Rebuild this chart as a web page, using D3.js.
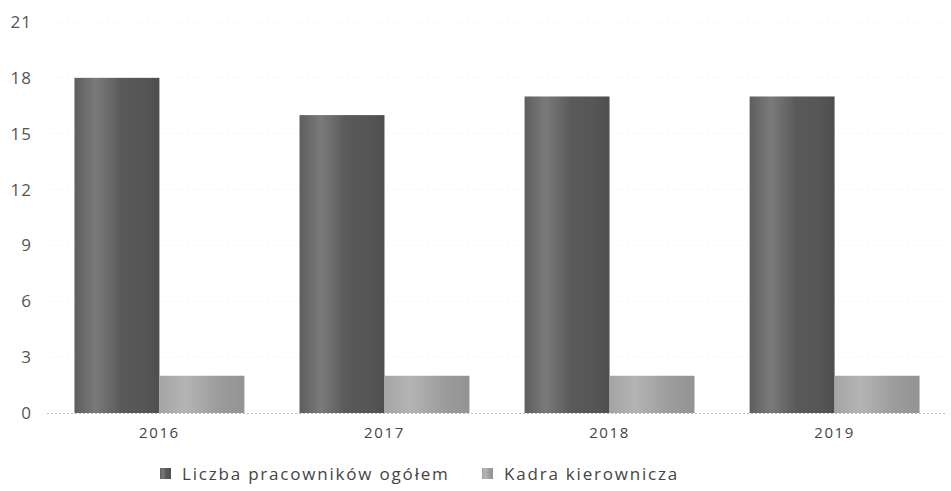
<!DOCTYPE html>
<html><head><meta charset="utf-8">
<script src="https://cdn.jsdelivr.net/npm/d3@7"></script>
<style>body{margin:0;background:#fff}svg{display:block}text{font-family:"Open Sans",sans-serif}</style>
</head><body>
<svg id="c" width="951" height="491"></svg>
<script>
const categories = ["2016","2017","2018","2019"];
const seriesNames = ["Liczba pracowników ogółem","Kadra kierownicza"];
const totalEmployees = [18,16,17,17];
const management = [2,2,2,2];
const yTicks = [0,3,6,9,12,15,18,21];

const svg = d3.select("#c");
const defs = svg.append("defs");
function grad(id, stops){
  const g = defs.append("linearGradient").attr("id",id).attr("x1","0").attr("x2","1").attr("y1","0").attr("y2","0");
  stops.forEach(s=>g.append("stop").attr("offset",s[0]).attr("stop-color",s[1]));
}
grad("gDark",[[0,"#5e5e5e"],[0.25,"#7a7a7a"],[0.55,"#5a5a5a"],[0.85,"#555"],[1,"#4e4e4e"]]);
grad("gLight",[[0,"#a4a4a4"],[0.3,"#b4b4b4"],[0.7,"#9c9c9c"],[1,"#939393"]]);

const m = {left:47, right:4, top:22, bottom:78};
const W = 951, H = 491;
const x = d3.scaleBand().domain(categories).range([m.left, W-m.right]).paddingInner(0.245).paddingOuter(0.122);
const xs = d3.scaleBand().domain(seriesNames).range([0, x.bandwidth()]);
const y = d3.scaleLinear().domain([0,21]).range([H-m.bottom, m.top]);

// gridlines
svg.append("g").selectAll("line").data(yTicks.filter(t=>t>0)).join("line")
  .attr("x1",m.left).attr("x2",W-m.right).attr("y1",d=>y(d)).attr("y2",d=>y(d))
  .attr("stroke","#f2f2f2").attr("stroke-dasharray","2,3");

// y axis
const ya = svg.append("g").attr("transform",`translate(${m.left},0)`)
  .call(d3.axisLeft(y).tickValues(yTicks).tickSize(0).tickPadding(15));
ya.select(".domain").remove();
ya.selectAll("text").attr("font-size",17).attr("fill","#555").attr("letter-spacing","1px")
  .attr("font-family","'Open Sans',sans-serif");

const colors = ["url(#gDark)","url(#gLight)"];
const data = categories.map((c,i)=>({c, vals:[totalEmployees[i], management[i]]}));
const groups = svg.append("g").selectAll("g").data(data).join("g")
  .attr("transform",d=>`translate(${x(d.c)},0)`);
groups.selectAll("rect").data(d=>d.vals.map((v,j)=>({v,s:seriesNames[j],j}))).join("rect")
  .attr("x",d=>xs(d.s)).attr("width",xs.bandwidth())
  .attr("y",d=>y(d.v)).attr("height",d=>y(0)-y(d.v))
  .attr("fill",d=>colors[d.j]);

// baseline
svg.append("line").attr("x1",m.left).attr("x2",W-m.right).attr("y1",y(0)+0.5).attr("y2",y(0)+0.5)
  .attr("stroke","#bbb").attr("stroke-dasharray","2,2");

// x axis
const xa = svg.append("g").attr("transform",`translate(0,${y(0)})`)
  .call(d3.axisBottom(x).tickSize(0).tickPadding(14));
xa.select(".domain").remove();
xa.selectAll("text").attr("font-size",15).attr("fill","#444").attr("letter-spacing","1.6px")
  .attr("dy",null).attr("y",25).attr("font-family","'Open Sans',sans-serif");

// legend
const legX = [160, 482];
const leg = svg.append("g").selectAll("g").data(seriesNames).join("g")
  .attr("transform",(d,i)=>`translate(${legX[i]},468)`);
leg.append("rect").attr("width",11).attr("height",11).attr("fill",(d,i)=>colors[i]);
leg.append("text").attr("x",22).attr("y",12).attr("font-size",17).attr("fill","#444")
  .attr("letter-spacing","1.8px").text(d=>d);
</script>
</body></html>
